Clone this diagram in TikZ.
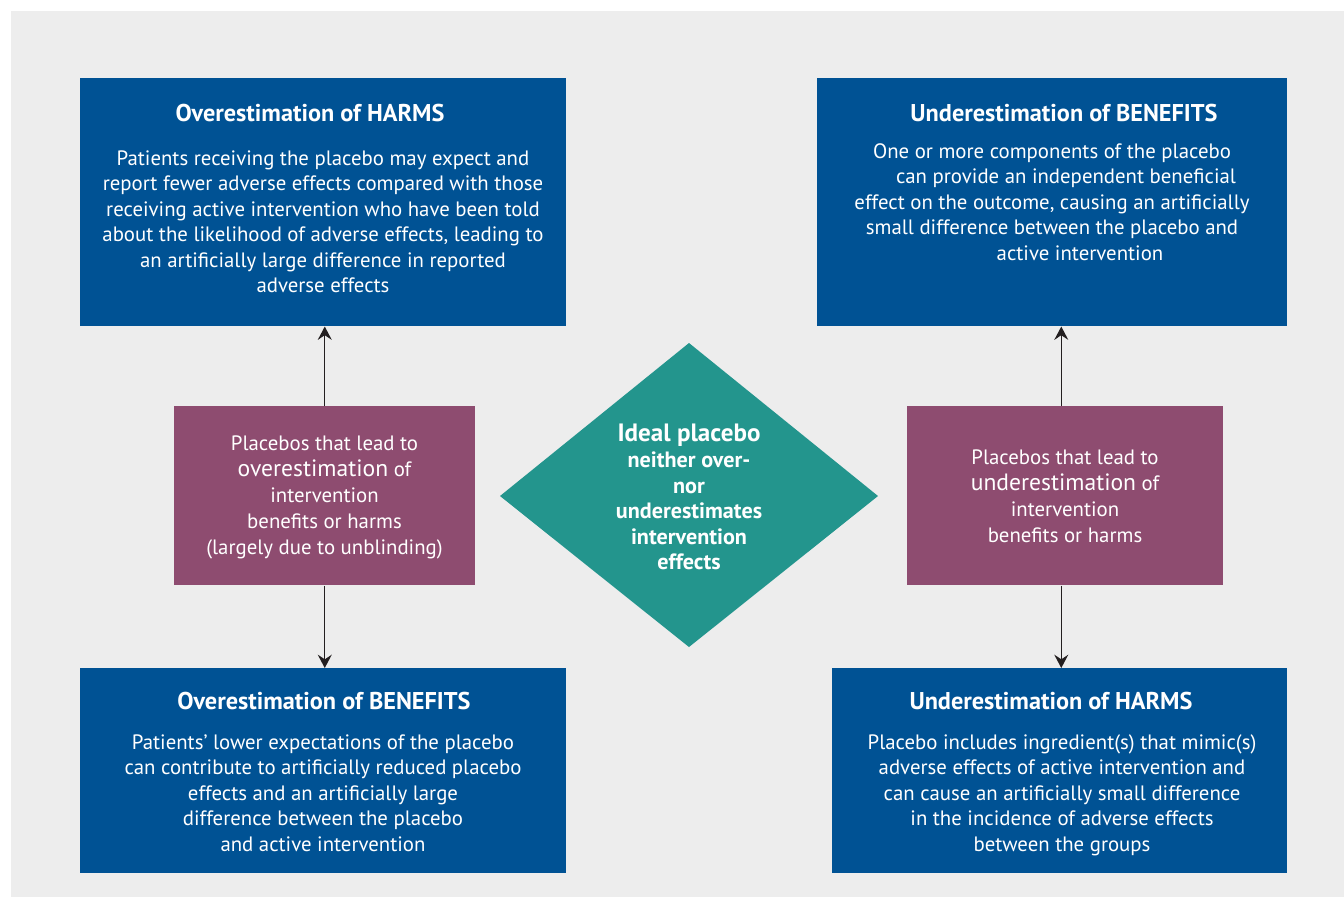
\documentclass[tikz,border=0pt]{standalone}
\usepackage{fontspec}
\setmainfont{PT Sans}
\usetikzlibrary{arrows.meta}
\definecolor{bg}{HTML}{EDEDED}
\definecolor{bbox}{HTML}{005294}
\definecolor{pbox}{HTML}{8E4C70}
\definecolor{tbox}{HTML}{23958D}
\definecolor{arrc}{HTML}{231F20}
\begin{document}
\begin{tikzpicture}[x=0.75pt,y=-0.75pt,
  bluebox/.style={fill=bbox, draw=none, inner sep=0, anchor=north west},
  purplebox/.style={fill=pbox, draw=none, inner sep=0, anchor=north west},
  titletext/.style={text=white, inner sep=0, anchor=base, font=\bfseries\fontsize{18.2}{20}\selectfont},
  bodytext/.style={text=white, inner sep=0, anchor=north, align=center, font=\fontsize{15.6}{19.15}\selectfont},
  purpletext/.style={text=white, inner sep=0, anchor=north, align=center, font=\fontsize{15.6}{19.6}\selectfont},
  idealtext/.style={text=white, inner sep=0, anchor=north, align=center, font=\bfseries\fontsize{16.6}{19.2}\selectfont},
  arrow/.style={draw=arrc, line width=1pt, -{Stealth[length=10pt,width=10.5pt,inset=3.5pt]}}
]
\useasboundingbox (0,0) rectangle (1344,897);
\fill[bg] (11,11) rectangle (1344,897);

% boxes
\node[bluebox, minimum width={486*0.75pt}, minimum height={248*0.75pt}] (tl) at (80,78) {};
\node[bluebox, minimum width={470*0.75pt}, minimum height={248*0.75pt}] (tr) at (817,78) {};
\node[bluebox, minimum width={486*0.75pt}, minimum height={205*0.75pt}] (bl) at (80,668) {};
\node[bluebox, minimum width={455*0.75pt}, minimum height={205*0.75pt}] (br) at (832,668) {};
\node[purplebox, minimum width={301*0.75pt}, minimum height={179*0.75pt}] (lp) at (174,406) {};
\node[purplebox, minimum width={316*0.75pt}, minimum height={179*0.75pt}] (rp) at (907,406) {};
\fill[tbox] (689,343) -- (878,496) -- (689,647) -- (500,496) -- cycle;

% texts
\node[titletext] (tlt) at (310,121) {Overestimation of HARMS};
\node[bodytext] (tlb) at (323,150) {Patients receiving the placebo may expect and\\
report fewer adverse effects compared with those\\
receiving active intervention who have been told\\
about the likelihood of adverse effects, leading to\\
an artificially large difference in reported\\
adverse effects};

\node[titletext] (trt) at (1064,121) {Underestimation of BENEFITS};
\node[bodytext] (trb) at (1052,143) {One or more components of the placebo\\
\hspace*{21pt}can provide an independent beneficial\\
effect on the outcome, causing an artificially\\
small difference between the placebo and\\
\hspace*{42pt}active intervention};

\node[titletext] (blt) at (324,709) {Overestimation of BENEFITS};
\node[bodytext] (blb) at (323,734) {Patients’ lower expectations of the placebo\\
can contribute to artificially reduced placebo\\
effects and an artificially large\\
difference between the placebo\\
and active intervention};

\node[titletext] (brt) at (1051,709) {Underestimation of HARMS};
\node[bodytext] (brb) at (1062,734) {Placebo includes ingredient(s) that mimic(s)\\
adverse effects of active intervention and\\
can cause an artificially small difference\\
in the incidence of adverse effects\\
between the groups};

\node[purpletext] (lpt) at (324.5,435) {Placebos that lead to\\
{\fontsize{17.7}{19.6}\selectfont overestimation} of\\
intervention\\
benefits or harms\\
(largely due to unblinding)};

\node[purpletext] (rpt) at (1065,449) {Placebos that lead to\\
{\fontsize{17.7}{19.6}\selectfont underestimation} of\\
intervention\\
benefits or harms};

\node[idealtext] (ideal) at (689,424) {{\fontsize{18.8}{19.2}\selectfont Ideal placebo}\\
neither over-\\
nor\\
underestimates\\
intervention\\
effects};

% connectors
\draw[arrow] (lp.north) -- (lp.north |- tl.south);
\draw[arrow] (lp.south) -- (lp.south |- bl.north);
\coordinate (rpn) at ([xshift=-3pt]rp.north);
\coordinate (rps) at ([xshift=-3pt]rp.south);
\draw[arrow] (rpn) -- (rpn |- tr.south);
\draw[arrow] (rps) -- (rps |- br.north);
\end{tikzpicture}
\end{document}
